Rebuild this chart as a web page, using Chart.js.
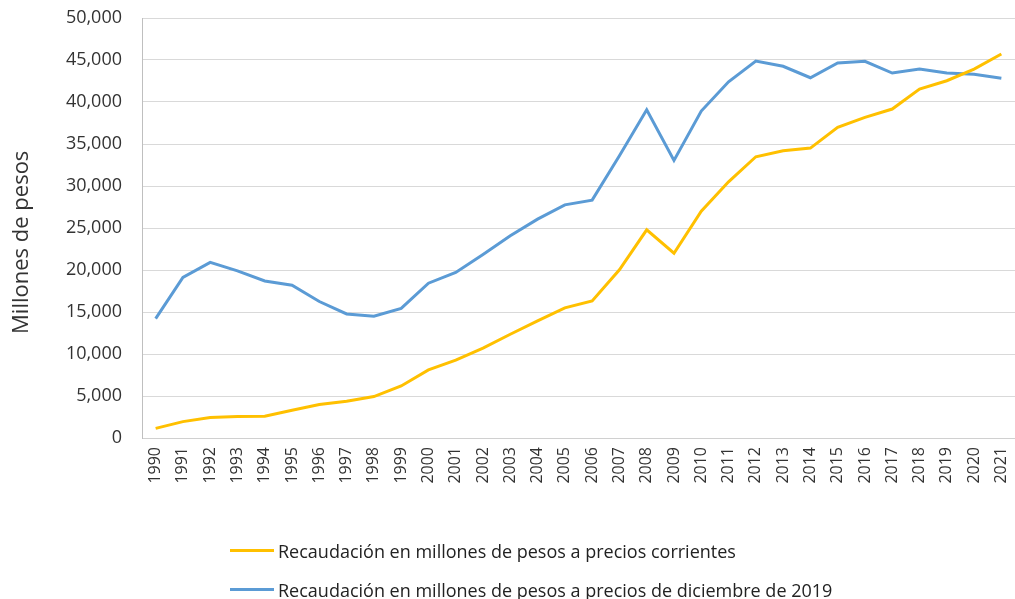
<!DOCTYPE html>
<html>
<head>
<meta charset="utf-8">
<script src="https://cdn.jsdelivr.net/npm/chart.js@4/dist/chart.umd.min.js"></script>
<style>
  html, body { margin: 0; padding: 0; background: #fff; overflow: hidden; }
  #wrap { position: relative; width: 1015px; height: 599px; }
  #legend { position: absolute; left: 230px; top: 531px; font-family: "Open Sans", sans-serif; font-size: 18px; color: #222; }
  .item { display: flex; align-items: center; height: 39px; white-space: nowrap; }
  .swatch { width: 44px; height: 3px; margin-right: 4px; }
</style>
</head>
<body>
<div id="wrap">
  <canvas id="chart" width="1015" height="599"></canvas>
  <div id="legend"></div>
</div>
<script>
const years = ['1990','1991','1992','1993','1994','1995','1996','1997','1998','1999','2000',
  '2001','2002','2003','2004','2005','2006','2007','2008','2009','2010',
  '2011','2012','2013','2014','2015','2016','2017','2018','2019','2020','2021'];

// Recaudación a precios corrientes
const corrientes = [1150, 1950, 2430, 2550, 2590, 3300, 3980, 4370, 4930, 6200, 8100,
  9260, 10690, 12350, 13940, 15490, 16320, 20020, 24780, 22000, 27010,
  30500, 33480, 34190, 34510, 36980, 38170, 39160, 41540, 42530, 43920, 45710];

// Recaudación a precios de diciembre de 2019
const constantes = [14220, 19110, 20900, 19900, 18700, 18190, 16250, 14770, 14500, 15420, 18430,
  19700, 21850, 24070, 26050, 27760, 28320, 33600, 39080, 33050, 38920,
  42410, 44880, 44250, 42890, 44640, 44840, 43450, 43920, 43450, 43290, 42820];

const seriesNames = [
  'Recaudación en millones de pesos a precios corrientes',
  'Recaudación en millones de pesos a precios de diciembre de 2019'
];
const colors = ['#FFC000', '#5B9BD5'];

Chart.defaults.font.family = '"Open Sans", sans-serif';
Chart.defaults.color = '#333';

const ctx = document.getElementById('chart').getContext('2d');
new Chart(ctx, {
  type: 'line',
  data: {
    labels: years,
    datasets: [
      { label: seriesNames[0], data: corrientes, borderColor: colors[0], backgroundColor: colors[0],
        borderWidth: 3, pointRadius: 0, tension: 0 },
      { label: seriesNames[1], data: constantes, borderColor: colors[1], backgroundColor: colors[1],
        borderWidth: 3, pointRadius: 0, tension: 0 }
    ]
  },
  options: {
    responsive: false,
    animation: false,
    layout: { padding: { top: 18, left: 0, right: 0, bottom: 0 } },
    plugins: {
      legend: { display: false },
      tooltip: { enabled: false }
    },
    scales: {
      x: {
        offset: true,
        grid: { display: false, drawTicks: false },
        border: { color: '#D0D0D0', width: 1 },
        ticks: { maxRotation: 90, minRotation: 90, autoSkip: false, padding: 9, font: { size: 16 } },
        afterFit: scale => {
          scale.height = 161;
          scale.paddingLeft = 0;
          scale.paddingRight = 0;
        }
      },
      y: {
        min: 0,
        max: 50000,
        grid: { color: '#D9D9D9', drawTicks: false },
        border: { color: '#BFBFBF', width: 1 },
        ticks: { stepSize: 5000, padding: 20, font: { size: 18 },
          callback: v => v.toLocaleString('en-US') },
        // trailing spaces push the title a little below the middle, like the original
        title: { display: true, text: 'Millones de pesos     ', font: { size: 22 }, padding: { top: 9, bottom: 0 } },
        afterFit: scale => {
          scale.width = 142;
          scale.paddingTop = 0;
          scale.paddingBottom = 0;
        }
      }
    }
  }
});

// legend below the plot, one series per row
const legend = document.getElementById('legend');
seriesNames.forEach((name, i) => {
  const row = document.createElement('div');
  row.className = 'item';
  row.innerHTML = `<span class="swatch" style="background:${colors[i]}"></span><span>${name}</span>`;
  legend.appendChild(row);
});
</script>
</body>
</html>
